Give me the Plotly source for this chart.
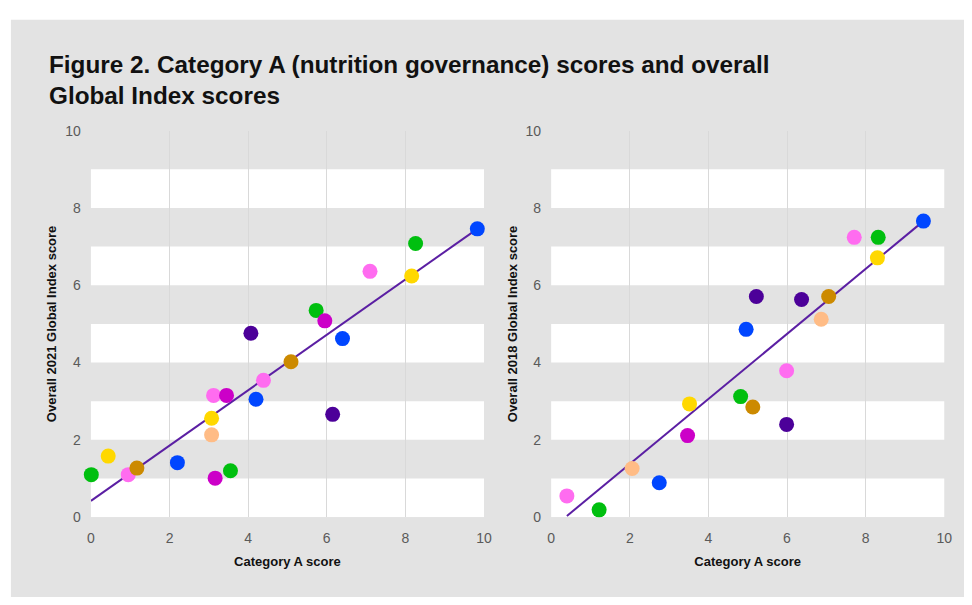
import plotly.graph_objects as go

# ---------------- data ----------------
# Left panel: Category A score vs overall 2021 Global Index score
catA_2021 = [9.83, 8.26, 7.10, 8.16, 5.73, 5.95, 4.07, 6.40, 5.09, 4.39, 3.12, 3.45,
             4.20, 6.15, 3.07, 3.07, 0.44, 2.20, 0.01, 0.95, 1.17, 3.16, 3.55]
overall_2021 = [7.46, 7.08, 6.36, 6.24, 5.35, 5.08, 4.76, 4.62, 4.02, 3.54, 3.15, 3.15,
                3.05, 2.66, 2.56, 2.13, 1.58, 1.41, 1.10, 1.10, 1.27, 1.01, 1.20]
group_2021 = ["blue", "green", "pink", "yellow", "green", "magenta", "purple", "blue",
              "gold", "pink", "pink", "magenta", "blue", "purple", "yellow", "peach",
              "yellow", "blue", "green", "pink", "gold", "magenta", "green"]
trend_2021_x = [0.0, 9.83]
trend_2021_y = [0.42, 7.46]

# Right panel: Category A score vs overall 2018 Global Index score
catA_2018 = [9.47, 7.71, 8.32, 8.30, 5.22, 6.37, 7.06, 6.87, 4.96, 5.99, 4.82, 3.52,
             5.13, 5.99, 3.47, 2.06, 2.75, 0.40, 1.22, -0.02, 0.28]
overall_2018 = [7.66, 7.24, 7.24, 6.71, 5.71, 5.63, 5.71, 5.12, 4.86, 3.79, 3.12, 2.93,
                2.85, 2.40, 2.11, 1.26, 0.89, 0.55, 0.19, -0.09, -0.09]
group_2018 = ["blue", "pink", "green", "yellow", "purple", "purple", "gold", "peach",
              "blue", "pink", "green", "yellow", "gold", "purple", "magenta", "peach",
              "blue", "pink", "green", "green", "yellow"]
trend_2018_x = [0.40, 9.47]
trend_2018_y = [0.03, 7.66]

x_ticks = [0, 2, 4, 6, 8, 10]
y_ticks = [0, 2, 4, 6, 8, 10]
band_starts = [0, 2, 4, 6, 8]

title_line1 = "Figure 2. Category A (nutrition governance) scores and overall"
title_line2 = "Global Index scores"
x_title = "Category A score"
y_title_left = "Overall 2021 Global Index score"
y_title_right = "Overall 2018 Global Index score"

# ---------------- styles ----------------
palette = {
    "green": "#00bf0f",
    "blue": "#0046ff",
    "yellow": "#ffd800",
    "pink": "#ff6cf0",
    "magenta": "#cc00c8",
    "purple": "#4c0099",
    "gold": "#cc8a00",
    "peach": "#ffbc86",
}
PAGE_BG = "#e3e3e3"
PLOT_BG = "#e2e2e2"
TREND = "#5b1fa3"
FONT = "Liberation Sans, Arial, sans-serif"

W, H = 972, 605


def px_x(v):
    return v / W


def px_y(v):
    return 1 - v / H


fig = go.Figure()

panels = [
    (catA_2021, overall_2021, group_2021, trend_2021_x, trend_2021_y, "x", "y"),
    (catA_2018, overall_2018, group_2018, trend_2018_x, trend_2018_y, "x2", "y2"),
]
for xs, ys, gs, tx, ty, xa, ya in panels:
    fig.add_trace(go.Scatter(x=tx, y=ty, mode="lines", xaxis=xa, yaxis=ya,
                             line=dict(color=TREND, width=2), hoverinfo="skip",
                             showlegend=False, cliponaxis=False))
    fig.add_trace(go.Scatter(x=xs, y=ys, mode="markers", xaxis=xa, yaxis=ya,
                             marker=dict(size=15, color=[palette[g] for g in gs],
                                         line=dict(width=0), opacity=1),
                             showlegend=False, cliponaxis=False))

shapes = []
shapes.append(dict(type="rect", xref="paper", yref="paper", x0=px_x(7), x1=1.0,
                   y0=0, y1=px_y(12), fillcolor=PAGE_BG, line=dict(width=0),
                   layer="below"))
for xr, yr in [("x domain", "y"), ("x2 domain", "y2")]:
    for b in band_starts:
        shapes.append(dict(type="rect", xref=xr, yref=yr, x0=0, x1=1, y0=b, y1=b + 1,
                           fillcolor="white", line=dict(width=0), layer="below"))

tickfont = dict(family=FONT, size=14, color="#5a5a5a")
titlefont = dict(family=FONT, size=13, color="#111111", weight="bold")

y_top = px_y(126)
y_bot = px_y(523)

common_x = dict(range=[0, 10], tickvals=x_ticks, showgrid=True, gridcolor="#d9d9d9",
                gridwidth=1, zeroline=False, showline=False, ticks="",
                tickfont=tickfont, ticklabelstandoff=11, fixedrange=True)
common_y = dict(range=[0, 10], tickvals=y_ticks, showgrid=False, zeroline=False,
                showline=False, ticks="", tickfont=tickfont, ticklabelstandoff=9,
                fixedrange=True)

fig.update_layout(
    width=W, height=H,
    margin=dict(l=0, r=0, t=0, b=0),
    paper_bgcolor="white",
    plot_bgcolor=PLOT_BG,
    shapes=shapes,
    xaxis=dict(domain=[px_x(88), px_x(486)], anchor="y",
               title=dict(text=x_title, font=titlefont, standoff=11), **common_x),
    yaxis=dict(domain=[y_bot, y_top], anchor="x",
               title=dict(text=y_title_left, font=titlefont, standoff=5), **common_y),
    xaxis2=dict(domain=[px_x(554), px_x(952)], anchor="y2",
                title=dict(text=x_title, font=titlefont, standoff=11), **common_x),
    yaxis2=dict(domain=[y_bot, y_top], anchor="x2",
                title=dict(text=y_title_right, font=titlefont, standoff=5), **common_y),
    annotations=[
        dict(text=title_line1, xref="paper", yref="paper", x=px_x(44), y=px_y(58),
             xanchor="left", yanchor="middle", showarrow=False,
             font=dict(family=FONT, size=24.3, color="#111111", weight="bold")),
        dict(text=title_line2, xref="paper", yref="paper", x=px_x(44), y=px_y(90),
             xanchor="left", yanchor="middle", showarrow=False,
             font=dict(family=FONT, size=24.3, color="#111111", weight="bold")),
    ],
)

fig.write_html(
    "out.html",
    config={"displayModeBar": False},
    post_script=(
        "document.documentElement.style.margin='0';"
        "document.documentElement.style.overflow='hidden';"
        "document.documentElement.style.background='" + PAGE_BG + "';"
        "document.body.style.margin='0';"
        "document.body.style.overflow='hidden';"
        "document.body.style.background='" + PAGE_BG + "';"
    ),
)
